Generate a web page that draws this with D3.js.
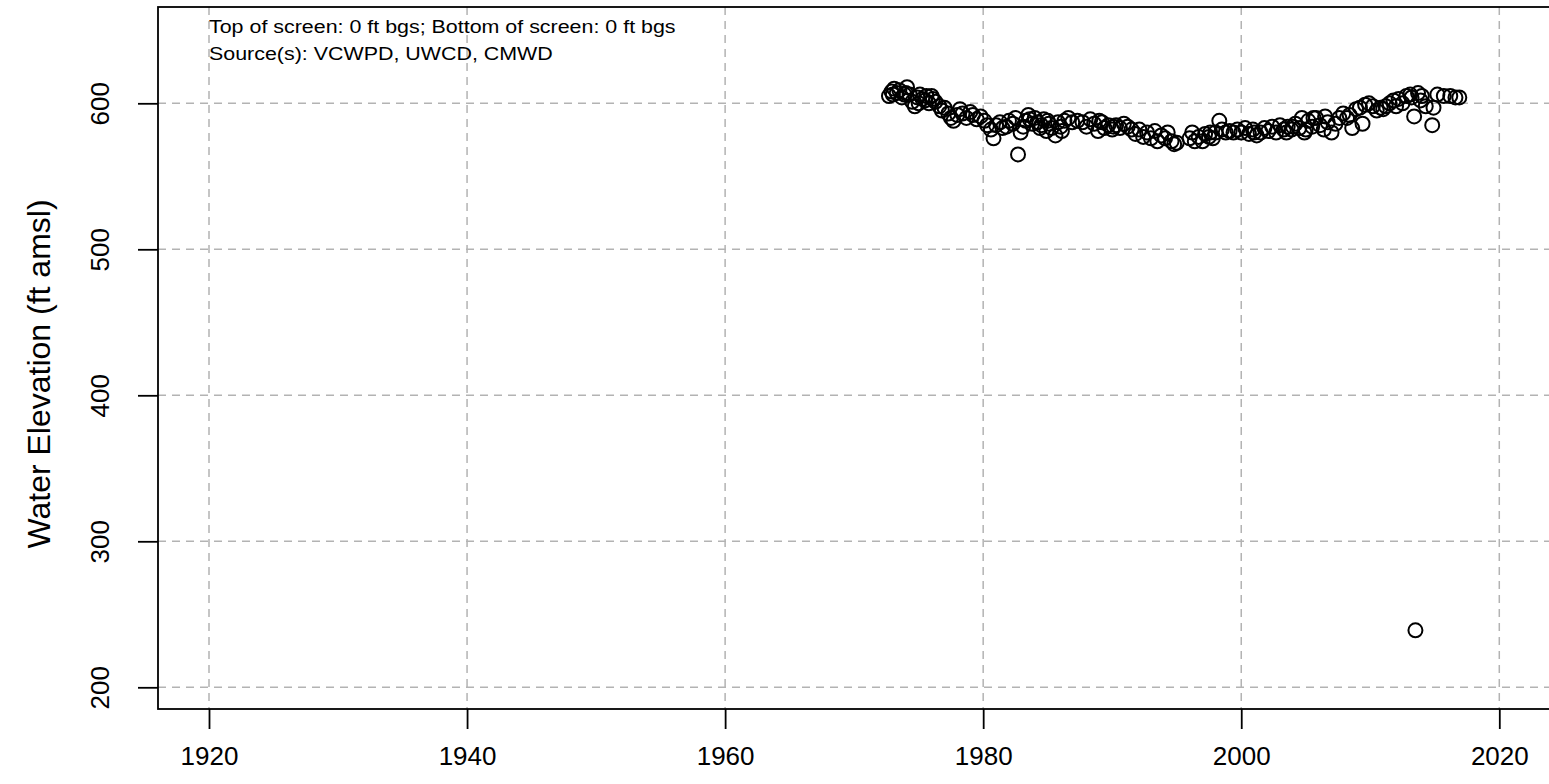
<!DOCTYPE html>
<html><head><meta charset="utf-8">
<script src="https://cdn.jsdelivr.net/npm/d3@7"></script>
<style>body{margin:0;background:#fff;overflow:hidden}text{font-family:"Liberation Sans",Arial,sans-serif}</style>
</head><body>
<svg id="c" width="1549" height="784"></svg>
<script>
const years = [1972.7,1972.9,1973.1,1973.3,1973.5,1973.7,1973.9,1974.1,1974.3,1974.5,1974.7,1974.9,1975.1,1975.3,1975.6,1975.8,1976.1,1976.3,1976.6,1976.8,1977.0,1977.3,1977.5,1977.7,1978.0,1978.2,1978.4,1978.7,1979.0,1979.2,1979.5,1979.8,1980.1,1980.3,1980.6,1980.8,1981.0,1981.3,1981.5,1981.8,1982.0,1982.3,1982.5,1982.7,1982.9,1983.1,1983.3,1983.5,1983.8,1984.0,1984.2,1984.4,1984.7,1984.9,1985.1,1985.3,1985.6,1985.8,1986.0,1986.3,1986.6,1986.9,1987.3,1987.7,1988.0,1988.3,1988.6,1988.9,1989.2,1989.4,1989.7,1990.0,1990.3,1990.6,1990.9,1991.2,1991.5,1991.8,1992.1,1992.4,1992.7,1993.0,1993.3,1993.5,1993.8,1994.1,1994.3,1994.6,1994.8,1995.0,1996.2,1996.4,1996.7,1997.0,1997.2,1997.5,1997.8,1998.0,1998.3,1998.5,1998.8,1999.1,1999.4,1999.7,2000.0,2000.3,2000.6,2000.9,2001.2,2001.5,2001.8,2002.1,2002.4,2002.7,2003.0,2003.3,2003.6,2003.9,2004.2,2004.5,2004.7,2004.9,2005.2,2005.5,2005.8,2006.1,2006.4,2006.7,2007.0,2007.3,2007.6,2007.9,2008.2,2008.4,2008.6,2008.9,2009.2,2009.4,2009.6,2009.9,2010.2,2010.5,2010.8,2011.2,2011.8,2012.2,2012.5,2012.8,2013.1,2013.4,2013.5,2013.7,2014.0,2014.3,2014.8,2014.9,2015.2,2015.7,2016.2,2016.6,2016.9,
  1973.0,1974.0,1975.0,1975.5,1976.0,1983.6,1984.5,1985.0,1986.1,1989.0,1990.1,1996.0,1997.6,2001.0,2003.5,2004.0,2005.0,2005.6,2006.5,2011.0,2011.5,2012.0,2013.2,2013.9];
const levels = [605,608,610,607,609,604,606,611,606,601,598,604,606,603,605,600,603,601,598,595,597,593,590,588,592,596,593,590,594,592,589,591,588,585,582,576,585,587,583,584,588,586,590,565,580,584,588,592,586,590,587,583,589,581,586,583,578,587,584,588,590,587,588,587,584,589,586,581,587,583,585,582,585,583,586,584,582,579,582,577,580,576,581,574,578,576,580,574,572,573,580,574,577,574,579,577,576,580,588,582,580,581,580,582,580,583,579,582,578,580,583,581,584,580,585,582,584,582,586,583,590,580,588,584,590,585,582,587,580,586,590,593,590,592,583,596,597,586,599,600,598,595,597,598,602,603,600,605,606,591,239,607,605,598,585,597,606,605,605,604,604,
  606,607,600,602,605,589,585,588,581,588,584,576,580,580,580,584,582,590,591,596,600,598,604,602];
const xTicks = [1920,1940,1960,1980,2000,2020];
const yTicks = [200,300,400,500,600];
const yTitle = "Water Elevation (ft amsl)";
const notes = ["Top of screen: 0 ft bgs; Bottom of screen: 0 ft bgs","Source(s): VCWPD, UWCD, CMWD"];

const svg = d3.select("#c");
const L=158, T=7, R=1565, B=709;
const x = d3.scaleLinear().domain([1920,2020]).range([209,1499.3]);
const y = d3.scaleLinear().domain([200,600]).range([687.3,103.3]);
const FONT = "'Liberation Sans',Arial,sans-serif";

svg.append("g").selectAll("line").data(xTicks).join("line")
 .attr("x1",d=>x(d)).attr("x2",d=>x(d)).attr("y1",T).attr("y2",B)
 .attr("stroke","#b3b3b3").attr("stroke-width",1.5).attr("stroke-dasharray","8,6");
svg.append("g").selectAll("line").data(yTicks).join("line")
 .attr("x1",L).attr("x2",R).attr("y1",d=>y(d)).attr("y2",d=>y(d))
 .attr("stroke","#b3b3b3").attr("stroke-width",1.5).attr("stroke-dasharray","8,6");

svg.append("g").selectAll("circle").data(years.map((d,i)=>[d,levels[i]])).join("circle")
 .attr("cx",d=>x(d[0])).attr("cy",d=>y(d[1])).attr("r",7)
 .attr("fill","none").attr("stroke","#000").attr("stroke-width",2);

svg.append("rect").attr("x",L).attr("y",T).attr("width",R-L).attr("height",B-T)
 .attr("fill","none").attr("stroke","#000").attr("stroke-width",1.8);

const xa = svg.append("g").attr("transform",`translate(0,${B})`)
 .call(d3.axisBottom(x).tickValues(xTicks).tickFormat(d3.format("d")).tickSize(20).tickPadding(18));
const ya = svg.append("g").attr("transform",`translate(${L},0)`)
 .call(d3.axisLeft(y).tickValues(yTicks).tickSize(20));
[xa,ya].forEach(g=>{g.select(".domain").remove();g.selectAll("line").attr("stroke","#000").attr("stroke-width",1.8);
 g.selectAll("text").attr("font-size",26).attr("fill","#000").attr("font-family",FONT);});
xa.selectAll("text").attr("dy","0.71em");
ya.selectAll("text").attr("text-anchor","middle").attr("x",0).attr("y",0).attr("dy",0)
 .attr("transform","translate(-49,0) rotate(-90)");

svg.append("text").attr("transform",`translate(50,${(T+B)/2+16}) rotate(-90)`).attr("text-anchor","middle")
 .attr("font-size",32).attr("font-family",FONT).text(yTitle);

svg.append("g").selectAll("text").data(notes).join("text")
 .attr("transform",(d,i)=>`translate(209,${33+i*27}) scale(1.14,1)`)
 .attr("font-size",18.8).attr("font-family",FONT).text(d=>d);
</script></body></html>
